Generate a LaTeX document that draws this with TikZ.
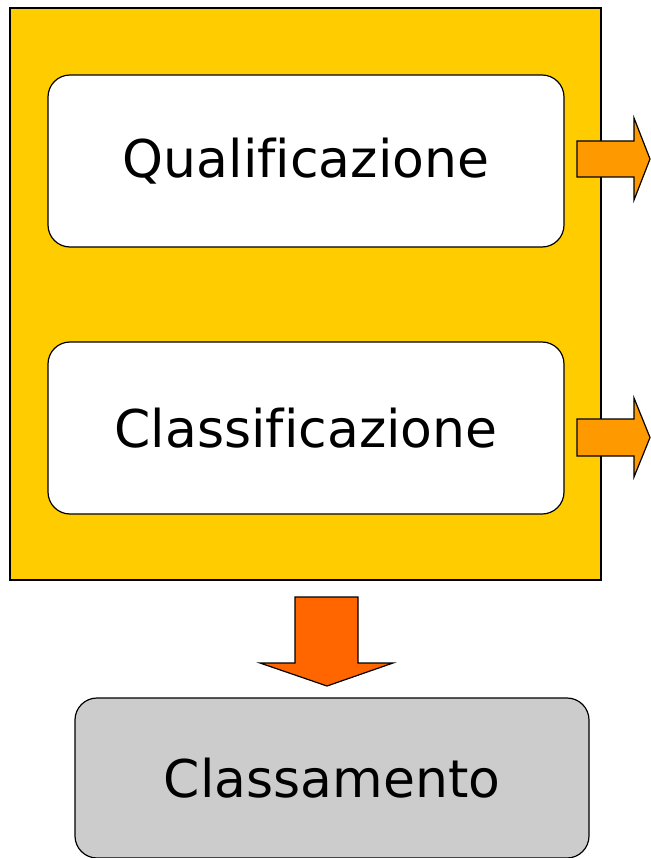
\documentclass[tikz,border=0pt]{standalone}
\usepackage{fontspec}
\setmainfont[Ligatures=NoCommon]{DejaVu Sans}
\definecolor{boxyellow}{HTML}{FFCC00}
\definecolor{arrorange}{HTML}{FF9900}
\definecolor{downorange}{HTML}{FF6600}
\definecolor{boxgray}{HTML}{CCCCCC}
\tikzset{
  frame/.style={draw=black, line width=1.2pt, fill=boxyellow},
  stagebox/.style={draw=black, line width=1.2pt, rounded corners=22pt, inner sep=0pt, outer sep=0pt,
    font=\fontsize{52}{62}\selectfont},
  blockarrow/.style={draw=black, line width=1.2pt, line join=miter}
}
\begin{document}
\begin{tikzpicture}[x=1pt,y=-1pt]
\useasboundingbox (0,0) rectangle (650,858);
\fill[white] (0,0) rectangle (650,858);
\node[frame, minimum width=591pt, minimum height=572pt, inner sep=0pt, outer sep=0pt] (frame) at (305.5,294) {};
\node[stagebox, fill=white, minimum width=516pt, minimum height=172pt] (q) at (306,161) {Qualificazione};
\node[stagebox, fill=white, minimum width=516pt, minimum height=172pt] (c) at (306,428) {Classificazione};
\node[stagebox, fill=boxgray, minimum width=514pt, minimum height=160pt] (cl) at (332,778) {Classamento};
% right arrows
\draw[blockarrow, fill=arrorange] (577,141) -- (634,141) -- (634,118) -- (650,159) -- (634,200) -- (634,177) -- (577,177) -- cycle;
\draw[blockarrow, fill=arrorange] (577,419) -- (634,419) -- (634,398) -- (650,437.5) -- (634,477) -- (634,456) -- (577,456) -- cycle;
% down arrow
\draw[blockarrow, fill=downorange] (295,597) -- (358,597) -- (358,663) -- (393,663) -- (327,686) -- (260,663) -- (295,663) -- cycle;
\end{tikzpicture}
\end{document}
